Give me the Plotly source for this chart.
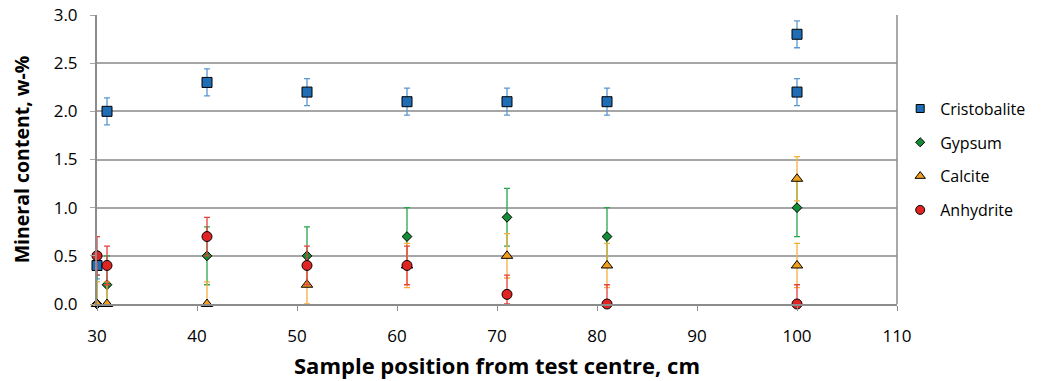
import plotly.graph_objects as go

# Data
cris_x = [30, 31, 41, 51, 61, 71, 81, 100, 100]
cris_y = [0.4, 2.0, 2.3, 2.2, 2.1, 2.1, 2.1, 2.8, 2.2]
cris_err = [0.14, 0.14, 0.14, 0.14, 0.14, 0.14, 0.14, 0.14, 0.14]

gyp_x = [30, 31, 41, 51, 61, 71, 81, 100]
gyp_y = [0.0, 0.2, 0.5, 0.5, 0.7, 0.9, 0.7, 1.0]
gyp_err = [0.3, 0.3, 0.3, 0.3, 0.3, 0.3, 0.3, 0.3]

cal_x = [30, 31, 41, 51, 61, 71, 81, 100, 100]
cal_y = [0.0, 0.0, 0.0, 0.2, 0.4, 0.5, 0.4, 1.3, 0.4]
cal_err = [0.23, 0.23, 0.23, 0.23, 0.23, 0.23, 0.23, 0.23, 0.23]

anh_x = [30, 31, 41, 51, 61, 71, 81, 100]
anh_y = [0.5, 0.4, 0.7, 0.4, 0.4, 0.1, 0.0, 0.0]
anh_err = [0.2, 0.2, 0.2, 0.2, 0.2, 0.2, 0.2, 0.2]

x_title = "Sample position from test centre, cm"
y_title = "Mineral content, w-%"

series = [
    ("Cristobalite", cris_x, cris_y, cris_err, "square", 10, "#1F6DB5", "#5A98D2"),
    ("Gypsum", gyp_x, gyp_y, gyp_err, "diamond", 7.5, "#128C35", "#2AA64C"),
    ("Calcite", cal_x, cal_y, cal_err, "triangle-up", 10, "#F2A01C", "#F4AE40"),
    ("Anhydrite", anh_x, anh_y, anh_err, "circle", 10, "#E02424", "#E94040"),
]
legend_sizes = [8, 7, 9, 9]

font_family = "Open Sans, Liberation Sans, sans-serif"

fig = go.Figure()
for i, (name, xs, ys, es, sym, size, col, ecol) in enumerate(series):
    minus = [min(e, y) for e, y in zip(es, ys)]
    fig.add_trace(go.Scatter(
        x=xs, y=ys, mode="markers", name=name, legendgroup=name,
        showlegend=False,
        marker=dict(symbol=sym, size=size, color=col,
                    line=dict(color="#000000", width=1)),
        error_y=dict(type="data", symmetric=False, array=es, arrayminus=minus,
                     color=ecol, thickness=1.3, width=3),
        cliponaxis=False,
    ))
for i, (name, xs, ys, es, sym, size, col, ecol) in enumerate(series):
    fig.add_trace(go.Scatter(
        x=[None], y=[None], mode="markers", name=name, legendgroup=name,
        showlegend=True,
        marker=dict(symbol=sym, size=legend_sizes[i], color=col,
                    line=dict(color="#000000", width=1)),
    ))

fig.update_layout(
    width=1043, height=381,
    margin=dict(l=97, r=146, t=15, b=77),
    paper_bgcolor="white", plot_bgcolor="white",
    font=dict(family=font_family, size=17, color="#000000"),
    showlegend=True,
    legend=dict(x=1.004, y=0.735, xanchor="left", yanchor="top",
                font=dict(size=16), tracegroupgap=10, itemwidth=30,
                borderwidth=0, bgcolor="rgba(0,0,0,0)"),
    xaxis=dict(range=[30, 110], dtick=10, tick0=30,
               showgrid=False, zeroline=False,
               showline=True, linecolor="#8C8C8C", linewidth=2,
               ticks="outside", ticklen=5, tickcolor="#8C8C8C",
               tickfont=dict(size=17), ticklabelstandoff=11,
               automargin=False),
    yaxis=dict(range=[0, 3.0], dtick=0.5, tick0=0, tickformat=".1f",
               showgrid=True, gridcolor="#A6A6A6", gridwidth=1.5,
               zeroline=False,
               showline=True, linecolor="#8C8C8C", linewidth=2,
               ticks="outside", ticklen=5, tickcolor="#A6A6A6",
               tickfont=dict(size=17), ticklabelstandoff=9,
               automargin=False),
    annotations=[
        dict(text="<b>" + x_title + "</b>", xref="paper", yref="paper",
             x=0.5, y=-0.212, xanchor="center", yanchor="middle",
             showarrow=False, font=dict(size=22)),
        dict(text="<b>" + y_title + "</b>", xref="paper", yref="paper",
             x=-0.094, y=0.5, xanchor="center", yanchor="middle",
             textangle=-90, showarrow=False, font=dict(size=19.5)),
    ],
)
# right border of plot area
fig.add_shape(type="line", xref="paper", yref="paper", x0=1, x1=1, y0=0, y1=1,
              line=dict(color="#8C8C8C", width=1.5))

fig.write_html("out.html")
